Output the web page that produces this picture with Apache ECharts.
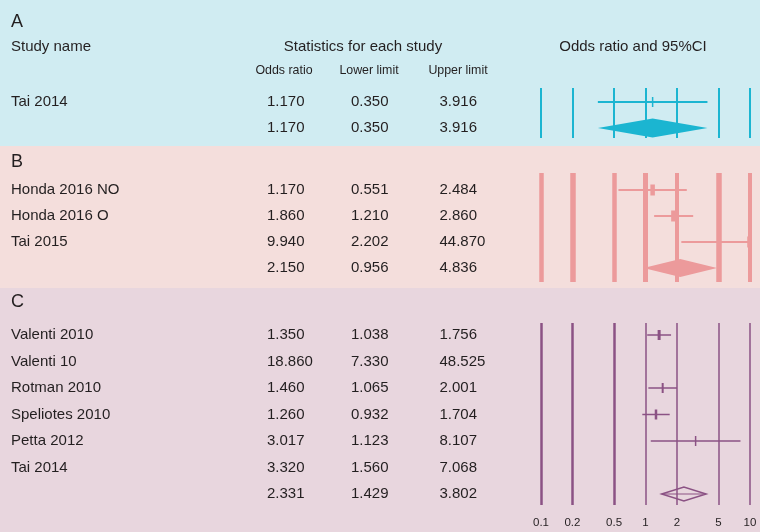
<!DOCTYPE html>
<html>
<head>
<meta charset="utf-8">
<script src="https://cdn.jsdelivr.net/npm/echarts@6/dist/echarts.min.js"></script>
<style>
html,body{margin:0;padding:0;background:#fff;}
#main{width:760px;height:532px;}
</style>
</head>
<body>
<div id="main"></div>
<script>
// ---------------- DATA ----------------
const refLines = [0.1, 0.2, 0.5, 1, 2, 5, 10];
const tickLabels = ['0.1', '0.2', '0.5', '1', '2', '5', '10'];

const aStudies = ['Tai 2014'];
const aOR = [1.170];
const aLower = [0.350];
const aUpper = [3.916];
const aSummary = [1.170, 0.350, 3.916];
const aPlotted = [true];

const bStudies = ['Honda 2016 NO', 'Honda 2016 O', 'Tai 2015'];
const bOR = [1.170, 1.860, 9.940];
const bLower = [0.551, 1.210, 2.202];
const bUpper = [2.484, 2.860, 44.870];
const bSummary = [2.150, 0.956, 4.836];
const bPlotted = [true, true, true];

const cStudies = ['Valenti 2010', 'Valenti 10', 'Rotman 2010', 'Speliotes 2010', 'Petta 2012', 'Tai 2014'];
const cOR = [1.350, 18.860, 1.460, 1.260, 3.017, 3.320];
const cLower = [1.038, 7.330, 1.065, 0.932, 1.123, 1.560];
const cUpper = [1.756, 48.525, 2.001, 1.704, 8.107, 7.068];
const cSummary = [2.331, 1.429, 3.802];
const cPlotted = [true, false, true, true, true, false];

// ---------------- STYLE / LAYOUT ----------------
const FONT = '"Liberation Sans", Arial, Helvetica, sans-serif';
const TEXT = '#231f20';
const panels = [
  { letter: 'A', names: aStudies, or: aOR, lo: aLower, hi: aUpper, sum: aSummary, plotted: aPlotted,
    bg: '#d0ecf2', color: '#1bb5d1', top: 0, h: 146, gridTop: 88, gridH: 50, yMin: -0.54, yMax: 1.385,
    letterY: 22.5, refW: [2, 2, 2, 2, 2, 2, 2], ciW: 2, boxH: 10, boxW: [1.5], diaH: 19, diaFill: true },
  { letter: 'B', names: bStudies, or: bOR, lo: bLower, hi: bUpper, sum: bSummary, plotted: bPlotted,
    bg: '#f4dedc', color: '#ec9a9b', top: 146, h: 142, gridTop: 173, gridH: 109, yMin: -0.654, yMax: 3.54,
    letterY: 162.5, refW: [4.5, 5.5, 4.5, 5, 4, 5.5, 4], ciW: 2, boxH: 11, boxW: [4.5, 5, 5], diaH: 18, diaFill: true },
  { letter: 'C', names: cStudies, or: cOR, lo: cLower, hi: cUpper, sum: cSummary, plotted: cPlotted,
    bg: '#e8d6de', color: '#8b5284', top: 288, h: 244, gridTop: 323, gridH: 182, yMin: -0.4528, yMax: 6.415,
    letterY: 302, refW: [2.5, 2.5, 2.5, 1.5, 1.5, 1.5, 1.5], ciW: 1.5, boxH: 10, boxW: [3, 3, 2, 2.5, 1.5, 2], diaH: 14, diaFill: false }
];
const PLOT_LEFT = 541, PLOT_W = 209;
const COL_X = [267, 351, 439.5];

const chart = echarts.init(document.getElementById('main'));

const grid = [], xAxis = [], yAxis = [], series = [];
panels.forEach((p, k) => {
  grid.push({ left: PLOT_LEFT, width: PLOT_W, top: p.gridTop, height: p.gridH, containLabel: false });
  xAxis.push({ type: 'log', logBase: 10, min: 0.1, max: 10, gridIndex: k, show: false });
  yAxis.push({ type: 'value', min: p.yMin, max: p.yMax, inverse: true, gridIndex: k, show: false });

  // reference vertical lines
  series.push({
    type: 'scatter', xAxisIndex: k, yAxisIndex: k, data: [], silent: true, z: 1,
    markLine: {
      silent: true, symbol: 'none', animation: false, label: { show: false },
      data: refLines.map((v, i) => ({ xAxis: v, lineStyle: { color: p.color, width: p.refW[i], type: 'solid' } }))
    }
  });

  // studies
  const studyData = [];
  p.names.forEach((n, i) => {
    if (p.plotted[i]) studyData.push([p.or[i], p.lo[i], p.hi[i], i, p.boxW[i]]);
  });
  series.push({
    type: 'custom', xAxisIndex: k, yAxisIndex: k, clip: true, z: 3,
    data: studyData,
    encode: { x: [0, 1, 2], y: 3 },
    renderItem: (params, api) => {
      const r = api.value(3);
      const pL = api.coord([api.value(1), r]);
      const pH = api.coord([api.value(2), r]);
      const pO = api.coord([api.value(0), r]);
      const bw = api.value(4);
      return {
        type: 'group', children: [
          { type: 'line', shape: { x1: pL[0], y1: pL[1], x2: pH[0], y2: pH[1] }, style: { stroke: p.color, lineWidth: p.ciW } },
          { type: 'rect', shape: { x: pO[0] - bw / 2, y: pO[1] - p.boxH / 2, width: bw, height: p.boxH }, style: { fill: p.color } }
        ]
      };
    }
  });

  // summary diamond
  series.push({
    type: 'custom', xAxisIndex: k, yAxisIndex: k, clip: true, z: 4,
    data: [[p.sum[0], p.sum[1], p.sum[2], p.names.length]],
    encode: { x: [0, 1, 2], y: 3 },
    renderItem: (params, api) => {
      const r = api.value(3);
      const pL = api.coord([api.value(1), r]);
      const pH = api.coord([api.value(2), r]);
      const pO = api.coord([api.value(0), r]);
      const h = p.diaH / 2;
      const pts = [[pL[0], pL[1]], [pO[0], pO[1] - h], [pH[0], pH[1]], [pO[0], pO[1] + h]];
      const children = [{
        type: 'polygon', shape: { points: pts },
        style: p.diaFill ? { fill: p.color } : { fill: 'none', stroke: p.color, lineWidth: 1.5 }
      }];
      if (!p.diaFill) {
        children.push({ type: 'line', shape: { x1: pL[0], y1: pL[1], x2: pH[0], y2: pH[1] }, style: { stroke: p.color, lineWidth: 1.2 } });
      }
      return { type: 'group', children };
    }
  });
});

chart.setOption({ animation: false, grid, xAxis, yAxis, series });

// ---------------- TEXT (placed through the chart's own scales) ----------------
const g = [];
function txt(text, x, y, size, align, extra) {
  g.push(Object.assign({
    type: 'text', x, y, z: 20, silent: true,
    style: { text, fill: TEXT, font: size + 'px ' + FONT, align: align || 'left', verticalAlign: 'middle' }
  }, extra || {}));
}
panels.forEach((p, k) => {
  g.push({ type: 'rect', z: -10, silent: true, shape: { x: 0, y: p.top, width: 760, height: p.h }, style: { fill: p.bg } });
  txt(p.letter, 11, p.letterY, 18);
  const rowY = (i) => chart.convertToPixel({ yAxisIndex: k }, i);
  p.names.forEach((n, i) => {
    const y = rowY(i);
    txt(n, 11, y, 15);
    txt(p.or[i].toFixed(3), COL_X[0], y, 15);
    txt(p.lo[i].toFixed(3), COL_X[1], y, 15);
    txt(p.hi[i].toFixed(3), COL_X[2], y, 15);
  });
  const ys = rowY(p.names.length);
  txt(p.sum[0].toFixed(3), COL_X[0], ys, 15);
  txt(p.sum[1].toFixed(3), COL_X[1], ys, 15);
  txt(p.sum[2].toFixed(3), COL_X[2], ys, 15);
});
txt('Study name', 11, 47, 15);
txt('Statistics for each study', 363, 47, 15, 'center');
txt('Odds ratio and 95%CI', 633, 47, 15, 'center');
txt('Odds ratio', 284, 71, 12.4, 'center');
txt('Lower limit', 369, 71, 12.4, 'center');
txt('Upper limit', 458, 71, 12.4, 'center');
refLines.forEach((v, i) => {
  const x = chart.convertToPixel({ xAxisIndex: 2 }, v);
  txt(tickLabels[i], x, 523, 11.5, 'center');
});

chart.setOption({ graphic: g });
</script>
</body>
</html>
